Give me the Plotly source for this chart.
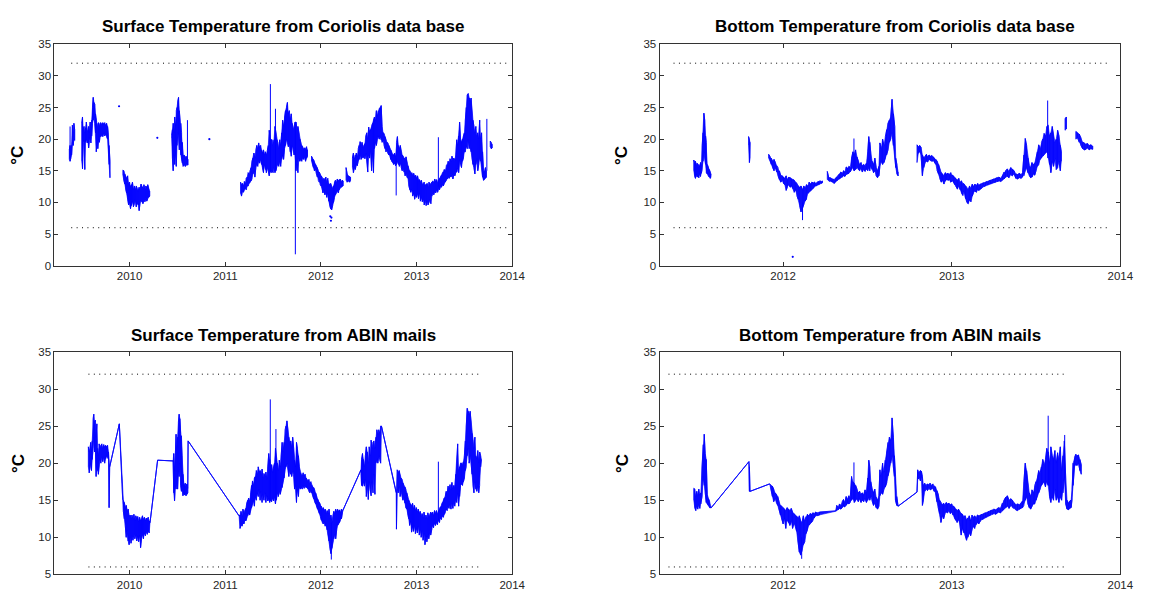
import plotly.graph_objects as go

# ---------------- data (decimal year, low, high) ----------------
# Surface temperature, Coriolis data base (top-left); None = gap in record
surf_cor_rows = [
    (2009.370, 16.8, 18.3), (2009.378, 16.5, 19.0), (2009.386, 17.0, 18.5), (2009.394, 17.5, 19.0),
    (2009.402, 19.5, 22.2), (2009.410, 19.0, 21.0), (2009.418, 20.0, 22.5), (2009.426, 19.8, 21.5),
    None,
    (2009.500, 16.5, 22.5), (2009.508, 15.3, 23.5), (2009.516, 19.5, 21.5), (2009.524, 19.8, 22.0),
    (2009.532, 15.2, 21.0), (2009.540, 19.5, 21.8), (2009.548, 20.0, 22.7), (2009.556, 19.4, 21.5),
    (2009.564, 19.6, 21.2), (2009.572, 18.6, 22.0), (2009.580, 19.8, 21.0), (2009.588, 20.2, 22.7),
    (2009.596, 19.4, 21.5), (2009.604, 20.5, 23.0), (2009.612, 22.5, 25.0), (2009.620, 23.0, 26.6),
    (2009.628, 23.5, 25.8), (2009.636, 22.5, 25.5), (2009.644, 21.0, 24.0), (2009.652, 18.0, 23.0),
    (2009.660, 19.5, 22.5), (2009.668, 18.5, 21.5), (2009.676, 20.0, 22.6), (2009.684, 19.5, 22.0),
    (2009.692, 20.5, 22.5), (2009.700, 20.4, 22.6), (2009.710, 20.6, 22.3), (2009.720, 20.4, 22.6),
    (2009.730, 21.0, 22.4), (2009.740, 20.5, 22.6), (2009.750, 20.8, 22.2), (2009.760, 20.4, 22.5),
    (2009.770, 20.0, 22.0), (2009.778, 19.0, 21.0), (2009.786, 16.0, 19.0), (2009.795, 13.9, 16.5),
    None,
    (2009.930, 14.3, 15.1), (2009.940, 13.5, 15.0), (2009.950, 12.9, 14.5), (2009.960, 12.0, 14.0),
    (2009.970, 11.5, 13.8), (2009.980, 10.5, 14.2), (2009.990, 9.6, 13.0), (2010.000, 10.0, 13.2),
    (2010.010, 9.0, 12.5), (2010.020, 9.5, 12.8), (2010.030, 10.2, 13.2), (2010.040, 9.3, 12.0),
    (2010.050, 9.8, 12.6), (2010.060, 10.4, 12.0), (2010.070, 9.3, 12.6), (2010.080, 10.0, 12.2),
    (2010.090, 9.6, 11.8), (2010.100, 8.7, 12.4), (2010.110, 9.9, 12.0), (2010.120, 10.3, 12.9),
    (2010.130, 10.1, 12.5), (2010.140, 9.8, 12.2), (2010.150, 10.5, 12.8), (2010.160, 10.1, 12.0),
    (2010.170, 10.6, 12.6), (2010.180, 10.2, 12.3), (2010.190, 10.6, 12.8), (2010.200, 10.8, 12.0),
    (2010.210, 11.0, 11.8),
    None,
    (2010.440, 20.1, 20.6), (2010.448, 17.0, 21.5), (2010.456, 15.0, 22.5), (2010.464, 17.5, 21.0),
    (2010.472, 16.0, 23.5), (2010.480, 18.0, 22.0), (2010.488, 15.7, 24.5), (2010.496, 19.0, 25.0),
    (2010.504, 21.0, 26.0), (2010.512, 20.5, 26.6), (2010.520, 18.3, 24.5), (2010.528, 19.5, 23.0),
    (2010.536, 17.5, 22.5), (2010.544, 16.8, 21.0), (2010.552, 16.2, 19.5), (2010.560, 15.7, 17.3),
    (2010.570, 16.0, 17.5), (2010.580, 15.7, 17.0), (2010.590, 15.8, 17.3), (2010.600, 16.0, 17.0),
    (2010.610, 15.9, 16.8),
    None,
    (2011.160, 11.4, 13.2), (2011.170, 11.0, 12.8), (2011.180, 11.8, 13.0), (2011.190, 11.6, 12.6),
    (2011.200, 12.0, 13.3), (2011.210, 12.2, 13.0), (2011.220, 12.0, 13.8), (2011.230, 12.6, 14.0),
    (2011.240, 12.6, 14.7), (2011.250, 13.0, 14.5), (2011.260, 13.2, 15.0), (2011.270, 13.4, 15.5),
    (2011.280, 13.7, 16.5), (2011.290, 14.5, 17.0), (2011.300, 15.0, 17.8), (2011.310, 14.0, 17.0),
    (2011.320, 15.5, 18.3), (2011.330, 16.0, 19.0), (2011.340, 15.7, 18.5), (2011.350, 16.5, 19.4),
    (2011.360, 16.2, 18.8), (2011.370, 16.8, 19.0), (2011.380, 16.0, 18.3), (2011.390, 15.5, 17.8),
    (2011.400, 14.7, 18.3), (2011.410, 16.0, 17.5), (2011.420, 15.2, 18.0), (2011.430, 14.7, 17.5),
    (2011.440, 15.5, 18.2), (2011.450, 15.0, 19.0), (2011.460, 14.2, 21.4), (2011.470, 15.0, 20.0),
    (2011.480, 14.7, 19.9), (2011.490, 15.0, 19.9), (2011.500, 14.7, 19.0), (2011.510, 15.5, 19.9),
    (2011.520, 14.7, 22.0), (2011.530, 15.0, 21.0), (2011.540, 15.7, 19.9), (2011.550, 16.0, 19.5),
    (2011.560, 15.7, 18.5), (2011.570, 16.5, 19.9), (2011.580, 15.7, 19.0), (2011.590, 16.8, 21.0),
    (2011.600, 17.5, 23.0), (2011.610, 16.8, 22.0), (2011.620, 18.5, 23.5), (2011.630, 19.0, 24.5),
    (2011.640, 20.0, 25.0), (2011.650, 19.5, 25.8), (2011.660, 18.8, 24.0), (2011.670, 19.5, 24.5),
    (2011.680, 18.0, 23.0), (2011.690, 17.3, 24.0), (2011.700, 19.0, 22.5), (2011.710, 18.5, 21.5),
    (2011.720, 17.5, 22.0), (2011.730, 18.0, 22.7), (2011.740, 15.0, 22.7), (2011.750, 16.0, 21.5),
    (2011.760, 14.7, 22.0), (2011.770, 17.0, 21.0), (2011.780, 16.5, 20.0), (2011.790, 16.8, 19.5),
    (2011.800, 16.5, 19.0), (2011.810, 17.0, 18.8), (2011.820, 16.8, 18.5), (2011.830, 17.2, 18.6),
    (2011.840, 16.5, 18.4), (2011.850, 17.0, 18.8), (2011.860, 17.3, 18.3),
    None,
    (2011.902, 16.5, 17.3), (2011.912, 16.0, 17.0), (2011.922, 15.5, 16.8), (2011.932, 15.0, 16.5),
    (2011.942, 15.2, 16.0), (2011.952, 14.6, 15.7), (2011.962, 14.0, 15.5), (2011.972, 13.5, 15.0),
    (2011.982, 13.2, 14.8), (2011.992, 12.8, 14.5), (2012.002, 12.6, 14.2), (2012.012, 12.2, 14.0),
    (2012.022, 11.5, 13.6), (2012.032, 12.0, 13.8), (2012.042, 11.2, 13.5), (2012.052, 11.6, 14.0),
    (2012.062, 10.8, 13.2), (2012.072, 11.5, 13.8), (2012.082, 10.2, 13.0), (2012.092, 9.5, 12.8),
    (2012.102, 9.0, 13.0), (2012.112, 8.8, 12.5), (2012.122, 9.5, 12.2), (2012.132, 10.0, 12.6),
    (2012.142, 10.8, 13.2), (2012.152, 11.2, 13.5), (2012.162, 11.5, 13.0), (2012.172, 11.9, 13.7),
    (2012.182, 11.5, 13.4), (2012.192, 12.0, 13.6), (2012.202, 12.3, 13.7), (2012.212, 12.4, 13.2),
    (2012.222, 12.5, 13.5), (2012.232, 12.6, 13.4),
    None,
    (2012.263, 13.5, 15.5), (2012.275, 13.2, 14.5), (2012.287, 13.4, 14.2), (2012.300, 13.2, 14.0),
    (2012.310, 13.5, 14.0),
    None,
    (2012.330, 15.5, 17.0), (2012.340, 14.7, 17.8), (2012.350, 15.5, 16.8), (2012.360, 15.2, 17.5),
    (2012.370, 16.0, 17.8), (2012.380, 15.8, 17.2), (2012.390, 16.5, 18.5), (2012.400, 16.8, 19.0),
    (2012.410, 17.5, 19.6), (2012.420, 16.8, 19.0), (2012.430, 17.3, 19.5), (2012.440, 17.0, 18.6),
    (2012.450, 17.5, 19.0), (2012.460, 16.9, 19.3), (2012.470, 17.8, 20.5), (2012.480, 17.0, 21.0),
    (2012.490, 14.8, 20.0), (2012.500, 17.5, 21.9), (2012.510, 17.0, 21.2), (2012.520, 18.2, 21.5),
    (2012.530, 15.0, 22.0), (2012.540, 17.8, 22.5), (2012.550, 14.7, 23.0), (2012.560, 18.5, 23.5),
    (2012.570, 19.5, 22.8), (2012.580, 19.0, 24.5), (2012.590, 20.0, 23.6), (2012.600, 20.5, 24.5),
    (2012.610, 20.0, 24.8), (2012.620, 20.5, 25.0), (2012.630, 19.9, 25.3), (2012.640, 19.5, 22.0),
    (2012.650, 19.8, 21.0), (2012.660, 19.0, 20.9), (2012.670, 18.5, 20.4), (2012.680, 18.0, 19.9),
    (2012.690, 18.2, 19.5), (2012.700, 17.8, 19.4), (2012.710, 17.5, 19.0), (2012.720, 17.5, 18.5),
    (2012.730, 16.8, 18.3), (2012.740, 16.5, 18.0), (2012.750, 16.3, 17.6), (2012.760, 16.0, 17.5),
    (2012.770, 16.2, 17.8), (2012.780, 15.8, 17.2), (2012.790, 16.0, 19.5), (2012.800, 16.5, 20.4),
    (2012.810, 16.0, 19.0), (2012.820, 15.7, 18.5), (2012.830, 16.2, 19.0), (2012.840, 15.5, 17.8),
    (2012.850, 15.0, 17.5), (2012.860, 15.5, 17.3), (2012.870, 14.8, 17.0), (2012.880, 14.2, 16.8),
    (2012.890, 14.5, 17.2), (2012.900, 14.0, 16.2), (2012.910, 13.8, 15.8), (2012.920, 12.6, 15.2),
    (2012.930, 12.0, 15.0), (2012.940, 11.6, 14.5), (2012.950, 12.2, 14.7), (2012.960, 11.0, 14.2),
    (2012.970, 11.5, 14.6), (2012.980, 10.5, 14.0), (2012.990, 11.2, 14.3), (2013.000, 10.8, 13.8),
    (2013.010, 11.4, 14.2), (2013.020, 10.6, 13.5), (2013.030, 11.5, 13.6), (2013.040, 10.2, 13.2),
    (2013.050, 10.8, 13.5), (2013.060, 10.1, 12.8), (2013.070, 10.5, 13.0), (2013.080, 9.6, 13.2),
    (2013.090, 10.3, 12.6), (2013.100, 9.5, 12.9), (2013.110, 10.2, 13.0), (2013.120, 9.6, 12.4),
    (2013.130, 10.0, 13.2), (2013.140, 10.4, 12.8), (2013.150, 9.8, 13.0), (2013.160, 11.0, 13.2),
    (2013.170, 11.6, 13.4), (2013.180, 11.2, 13.0), (2013.190, 11.8, 13.7), (2013.200, 11.5, 13.2),
    (2013.210, 12.0, 13.6), (2013.220, 11.6, 13.0), (2013.230, 12.2, 13.5), (2013.240, 12.0, 13.8),
    (2013.250, 12.5, 14.0), (2013.260, 12.4, 14.3), (2013.270, 12.8, 14.6), (2013.280, 12.6, 14.8),
    (2013.290, 13.0, 15.2), (2013.300, 13.2, 15.0), (2013.310, 13.5, 15.8), (2013.320, 13.7, 16.0),
    (2013.330, 14.0, 16.5), (2013.340, 13.8, 16.2), (2013.350, 14.2, 16.9), (2013.360, 14.0, 16.5),
    (2013.370, 14.4, 17.3), (2013.380, 13.7, 16.8), (2013.390, 14.5, 17.0), (2013.400, 14.2, 16.6),
    (2013.410, 14.7, 17.5), (2013.420, 14.8, 19.9), (2013.430, 15.5, 19.0), (2013.440, 14.7, 20.5),
    (2013.450, 16.8, 22.7), (2013.460, 16.0, 20.0), (2013.470, 15.5, 19.5), (2013.480, 16.5, 20.0),
    (2013.490, 17.0, 20.5), (2013.500, 18.0, 21.0), (2013.510, 18.0, 23.0), (2013.520, 19.0, 25.0),
    (2013.530, 18.5, 27.0), (2013.540, 20.0, 27.2), (2013.550, 18.5, 26.5), (2013.560, 19.0, 26.0),
    (2013.570, 18.0, 26.5), (2013.580, 17.0, 24.0), (2013.590, 16.0, 23.0), (2013.600, 15.5, 22.0),
    (2013.610, 14.5, 21.0), (2013.620, 16.0, 22.0), (2013.630, 17.0, 20.5), (2013.640, 15.0, 21.0),
    (2013.650, 16.0, 20.0), (2013.660, 17.0, 23.0), (2013.670, 16.5, 20.0), (2013.680, 16.0, 21.0),
    (2013.690, 14.0, 18.0), (2013.700, 13.5, 15.0), (2013.710, 13.6, 14.8), (2013.720, 13.8, 15.5),
    (2013.730, 14.0, 15.0),
    None,
    (2013.770, 18.8, 19.7), (2013.780, 18.5, 19.5), (2013.790, 18.6, 19.2),
]
surf_cor_spikes = [(2009.378, 17.0, 22.0), (2010.605, 16.0, 23.0), (2011.472, 15.0, 28.7),
                   (2011.525, 15.0, 24.8), (2011.733, 1.8, 22.0), (2012.787, 11.1, 17.0),
                   (2013.228, 12.5, 20.3), (2013.735, 15.0, 23.2)]
surf_cor_dots = [(2009.890, 25.2), (2010.290, 20.2), (2010.834, 20.0), (2012.098, 7.8),
                 (2012.105, 7.1), (2012.110, 7.6)]

# Surface temperature, ABIN mails (bottom-left); continuous line record
surf_abin_rows = [
    (2009.569, 19.5, 22.2), (2009.578, 18.7, 21.5), (2009.586, 19.5, 22.0), (2009.594, 20.0, 22.8),
    (2009.602, 19.0, 21.5), (2009.610, 20.5, 23.0), (2009.618, 22.0, 26.0), (2009.626, 23.5, 26.6),
    (2009.634, 21.5, 25.5), (2009.642, 22.5, 25.8), (2009.650, 18.2, 23.5), (2009.658, 19.5, 25.3),
    (2009.666, 19.0, 22.0), (2009.674, 18.5, 21.0), (2009.682, 19.8, 22.6), (2009.690, 20.5, 22.0),
    (2009.700, 20.0, 22.4), (2009.710, 20.8, 22.6), (2009.720, 20.2, 22.0), (2009.730, 20.8, 22.5),
    (2009.740, 20.0, 22.2), (2009.750, 20.6, 22.4), (2009.760, 21.0, 22.2), (2009.770, 20.9, 22.4),
    (2009.780, 20.5, 21.5), (2009.786, 14.0, 20.5), (2009.792, 19.5, 19.5), (2009.893, 25.3, 25.3),
    (2009.928, 15.1, 15.1), (2009.935, 13.5, 15.0), (2009.945, 12.5, 14.7), (2009.955, 11.6, 14.0),
    (2009.965, 10.0, 14.3), (2009.975, 11.0, 13.5), (2009.985, 9.5, 13.8), (2009.995, 9.0, 12.8),
    (2010.005, 10.0, 13.0), (2010.015, 9.2, 12.5), (2010.025, 10.2, 13.0), (2010.035, 9.6, 12.4),
    (2010.045, 10.5, 13.1), (2010.055, 9.8, 12.2), (2010.065, 10.4, 12.9), (2010.075, 9.5, 12.5),
    (2010.085, 10.2, 12.8), (2010.095, 9.4, 12.0), (2010.105, 10.3, 12.7), (2010.115, 8.6, 12.2),
    (2010.125, 9.8, 12.5), (2010.135, 10.4, 12.9), (2010.145, 9.8, 12.4), (2010.155, 10.6, 12.7),
    (2010.165, 10.2, 12.2), (2010.175, 10.8, 12.6), (2010.185, 10.4, 12.4), (2010.195, 10.9, 12.7),
    (2010.205, 10.6, 12.2), (2010.214, 12.0, 12.0), (2010.293, 20.4, 20.4), (2010.455, 20.3, 20.3),
    (2010.462, 16.0, 21.3), (2010.470, 14.9, 19.0), (2010.478, 17.0, 21.0), (2010.486, 16.5, 23.9),
    (2010.494, 17.5, 22.0), (2010.502, 16.5, 23.5), (2010.510, 19.0, 25.5), (2010.518, 18.2, 26.6),
    (2010.526, 20.0, 26.0), (2010.534, 17.0, 24.0), (2010.542, 16.2, 23.7), (2010.550, 17.0, 21.0),
    (2010.558, 15.6, 18.5), (2010.566, 16.0, 17.3), (2010.574, 15.7, 17.0), (2010.582, 16.0, 17.3),
    (2010.590, 15.6, 16.8), (2010.600, 15.8, 17.2), (2010.608, 16.0, 16.6), (2010.612, 23.0, 23.0),
    (2011.144, 12.9, 12.9), (2011.155, 11.2, 13.0), (2011.165, 11.8, 13.5), (2011.175, 11.5, 12.8),
    (2011.185, 12.0, 13.8), (2011.195, 11.8, 13.2), (2011.205, 12.4, 13.6), (2011.215, 12.2, 13.9),
    (2011.225, 12.6, 14.6), (2011.235, 12.9, 15.0), (2011.245, 13.3, 15.3), (2011.255, 13.0, 14.8),
    (2011.265, 13.8, 16.0), (2011.275, 14.0, 17.0), (2011.285, 14.5, 17.6), (2011.295, 15.0, 17.0),
    (2011.305, 14.2, 18.0), (2011.315, 15.5, 18.2), (2011.325, 15.0, 19.0), (2011.335, 16.0, 18.5),
    (2011.345, 15.5, 19.5), (2011.355, 16.5, 18.8), (2011.365, 15.0, 19.0), (2011.375, 16.2, 18.5),
    (2011.385, 14.7, 19.2), (2011.395, 15.8, 18.0), (2011.405, 15.0, 18.6), (2011.415, 16.0, 18.2),
    (2011.425, 14.7, 18.8), (2011.435, 15.6, 17.8), (2011.445, 14.9, 19.5), (2011.455, 15.2, 21.3),
    (2011.465, 14.7, 20.5), (2011.475, 15.0, 19.5), (2011.485, 14.8, 19.8), (2011.495, 15.3, 18.7),
    (2011.505, 14.9, 19.5), (2011.515, 15.5, 20.0), (2011.525, 14.5, 22.0), (2011.535, 15.0, 20.4),
    (2011.545, 16.0, 20.0), (2011.555, 15.5, 19.0), (2011.565, 16.2, 20.4), (2011.575, 15.8, 19.5),
    (2011.585, 16.5, 21.0), (2011.595, 16.7, 22.8), (2011.605, 17.5, 21.5), (2011.615, 18.0, 22.8),
    (2011.625, 19.1, 24.5), (2011.635, 19.5, 25.0), (2011.645, 20.0, 25.7), (2011.655, 19.5, 24.5),
    (2011.665, 18.2, 23.5), (2011.675, 19.0, 22.5), (2011.685, 18.5, 23.0), (2011.695, 18.2, 22.0),
    (2011.705, 19.0, 23.5), (2011.715, 18.5, 22.0), (2011.725, 16.5, 20.4), (2011.735, 17.0, 19.5),
    (2011.745, 14.7, 22.8), (2011.755, 16.5, 22.0), (2011.765, 15.5, 21.0), (2011.775, 16.8, 19.5),
    (2011.785, 16.5, 18.7), (2011.795, 16.8, 18.5), (2011.805, 16.5, 18.2), (2011.815, 17.0, 18.7),
    (2011.825, 16.6, 18.3), (2011.835, 17.0, 18.5), (2011.845, 16.7, 18.0), (2011.855, 16.8, 17.8),
    (2011.865, 16.5, 17.6), (2011.875, 16.2, 17.8), (2011.885, 16.0, 17.3), (2011.895, 16.3, 17.5),
    (2011.905, 16.0, 17.0), (2011.915, 15.6, 16.8), (2011.925, 15.2, 16.7), (2011.935, 14.8, 16.4),
    (2011.945, 14.5, 16.0), (2011.955, 14.2, 15.6), (2011.965, 13.8, 15.2), (2011.975, 13.5, 14.9),
    (2011.985, 13.2, 14.7), (2011.995, 12.8, 14.4), (2012.005, 12.3, 14.2), (2012.015, 12.0, 13.8),
    (2012.025, 11.8, 14.0), (2012.035, 12.2, 13.6), (2012.045, 11.5, 13.8), (2012.055, 11.8, 13.2),
    (2012.065, 11.0, 13.6), (2012.075, 10.5, 13.2), (2012.085, 9.5, 13.8), (2012.095, 8.5, 12.5),
    (2012.105, 7.8, 13.0), (2012.115, 8.5, 12.0), (2012.125, 9.4, 12.8), (2012.135, 9.8, 13.5),
    (2012.145, 10.5, 13.2), (2012.155, 9.8, 13.8), (2012.165, 11.0, 13.4), (2012.175, 11.6, 13.8),
    (2012.185, 11.8, 13.5), (2012.195, 12.0, 13.7), (2012.205, 12.4, 13.3), (2012.215, 12.5, 13.8),
    (2012.229, 13.6, 13.6), (2012.419, 19.1, 19.1), (2012.425, 17.0, 20.5), (2012.435, 16.9, 21.3),
    (2012.445, 17.5, 20.5), (2012.455, 16.9, 19.5), (2012.465, 17.8, 21.0), (2012.475, 15.5, 22.2),
    (2012.485, 17.0, 21.5), (2012.495, 15.1, 20.0), (2012.505, 17.5, 22.2), (2012.515, 16.5, 21.0),
    (2012.525, 15.6, 23.1), (2012.535, 17.5, 22.0), (2012.545, 16.0, 22.8), (2012.555, 18.5, 23.0),
    (2012.565, 15.8, 22.0), (2012.575, 20.0, 23.5), (2012.585, 20.5, 24.5), (2012.595, 20.0, 23.8),
    (2012.605, 21.0, 24.5), (2012.615, 20.5, 24.0), (2012.625, 20.0, 25.0), (2012.633, 25.0, 25.0),
    (2012.787, 16.0, 16.0), (2012.790, 11.1, 16.0), (2012.798, 16.5, 19.1), (2012.808, 16.0, 18.7),
    (2012.818, 16.8, 19.0), (2012.828, 15.5, 18.2), (2012.838, 16.2, 18.0), (2012.848, 15.6, 17.8),
    (2012.858, 15.0, 17.3), (2012.868, 15.4, 17.0), (2012.878, 14.6, 16.8), (2012.888, 14.0, 16.5),
    (2012.898, 13.8, 16.0), (2012.908, 13.2, 15.5), (2012.918, 12.5, 15.0), (2012.928, 11.6, 14.7),
    (2012.938, 12.2, 14.5), (2012.948, 10.7, 14.2), (2012.958, 11.5, 14.6), (2012.968, 10.8, 13.8),
    (2012.978, 11.6, 14.3), (2012.988, 10.5, 13.6), (2012.998, 11.2, 14.0), (2013.008, 10.6, 13.4),
    (2013.018, 11.5, 13.8), (2013.028, 10.3, 13.2), (2013.038, 11.0, 13.5), (2013.048, 10.0, 12.8),
    (2013.058, 10.8, 13.2), (2013.068, 9.6, 12.6), (2013.078, 10.5, 13.4), (2013.088, 9.0, 12.5),
    (2013.098, 10.2, 13.0), (2013.108, 9.4, 12.4), (2013.118, 10.5, 13.3), (2013.128, 9.8, 12.7),
    (2013.138, 10.8, 13.0), (2013.148, 10.3, 13.4), (2013.158, 11.0, 13.2), (2013.168, 11.6, 13.4),
    (2013.178, 11.3, 12.9), (2013.188, 11.9, 13.6), (2013.198, 11.6, 13.2), (2013.208, 12.0, 13.6),
    (2013.218, 11.7, 13.1), (2013.230, 12.3, 13.6), (2013.240, 12.0, 13.9), (2013.250, 12.6, 14.1),
    (2013.260, 12.4, 14.3), (2013.270, 12.9, 14.7), (2013.280, 12.7, 14.9), (2013.290, 13.1, 15.3),
    (2013.300, 13.3, 15.5), (2013.310, 13.8, 16.2), (2013.320, 13.6, 15.8), (2013.330, 14.2, 16.9),
    (2013.340, 13.9, 16.2), (2013.350, 14.4, 17.1), (2013.360, 13.8, 16.4), (2013.370, 14.6, 17.4),
    (2013.380, 13.9, 16.6), (2013.390, 14.6, 17.0), (2013.400, 14.2, 16.7), (2013.410, 15.0, 18.5),
    (2013.420, 14.7, 19.9), (2013.430, 16.0, 22.6), (2013.440, 14.2, 19.0), (2013.450, 15.5, 19.5),
    (2013.460, 17.0, 20.0), (2013.470, 17.2, 20.0), (2013.480, 17.0, 19.8), (2013.490, 17.5, 20.2),
    (2013.500, 18.0, 21.0), (2013.510, 19.0, 23.0), (2013.520, 19.5, 25.0), (2013.530, 21.0, 27.4),
    (2013.540, 22.0, 27.0), (2013.550, 20.0, 26.5), (2013.560, 21.0, 27.0), (2013.570, 20.0, 25.5),
    (2013.580, 18.5, 24.0), (2013.590, 17.0, 23.0), (2013.600, 16.0, 22.0), (2013.610, 17.5, 23.5),
    (2013.620, 16.5, 21.0), (2013.630, 16.2, 20.5), (2013.640, 17.0, 21.7), (2013.650, 16.0, 20.0),
    (2013.660, 17.0, 21.5), (2013.670, 19.5, 21.0), (2013.678, 20.5, 20.5),
]
surf_abin_spikes = [(2011.471, 15.0, 28.6), (2011.530, 15.0, 24.6), (2012.109, 7.0, 12.0),
                    (2013.228, 12.3, 20.2)]

# Bottom temperature, Coriolis data base (top-right)
bot_cor_rows = [
    (2011.470, 15.0, 16.7), (2011.475, 14.2, 16.3), (2011.480, 13.8, 16.5), (2011.485, 14.5, 15.8),
    (2011.490, 14.0, 16.2), (2011.495, 14.3, 15.5), (2011.500, 13.9, 16.0), (2011.505, 14.5, 15.6),
    (2011.510, 14.1, 16.3), (2011.515, 14.6, 15.8), (2011.520, 15.2, 19.0), (2011.525, 16.5, 21.0),
    (2011.530, 18.0, 24.1), (2011.535, 17.0, 23.0), (2011.540, 16.0, 20.5), (2011.545, 14.7, 19.5),
    (2011.550, 14.5, 16.0), (2011.556, 14.2, 15.6), (2011.562, 14.0, 15.2), (2011.568, 13.8, 14.8),
    (2011.572, 14.0, 14.5),
    None,
    (2011.795, 19.0, 20.4), (2011.800, 16.3, 20.0), (2011.804, 17.0, 19.5),
    None,
    (2011.914, 17.0, 17.6), (2011.922, 16.8, 17.3), (2011.930, 16.0, 17.0), (2011.938, 15.5, 16.5),
    (2011.946, 15.0, 16.8), (2011.954, 15.5, 16.3), (2011.962, 14.8, 15.8), (2011.970, 14.2, 15.5),
    (2011.978, 13.6, 15.0), (2011.986, 13.2, 14.3), (2011.994, 13.5, 14.2), (2012.002, 13.0, 14.0),
    (2012.010, 12.8, 13.8), (2012.018, 11.9, 14.2), (2012.026, 12.5, 13.6), (2012.034, 12.8, 14.0),
    (2012.042, 12.4, 13.9), (2012.050, 12.6, 13.7), (2012.058, 12.2, 13.6), (2012.066, 11.6, 13.5),
    (2012.074, 12.0, 13.2), (2012.082, 11.0, 13.0), (2012.090, 10.5, 12.6), (2012.098, 9.5, 12.4),
    (2012.106, 8.5, 12.6), (2012.114, 9.0, 12.0), (2012.122, 9.6, 12.6), (2012.130, 10.2, 12.3),
    (2012.138, 10.5, 12.8), (2012.146, 11.4, 12.6), (2012.154, 11.6, 13.2), (2012.162, 11.8, 12.9),
    (2012.170, 12.0, 13.2), (2012.178, 12.2, 13.1), (2012.186, 12.5, 13.2), (2012.194, 12.6, 13.0),
    (2012.202, 12.7, 13.2), (2012.210, 12.8, 13.3), (2012.218, 12.9, 13.4), (2012.226, 13.0, 13.3),
    (2012.233, 13.1, 13.4),
    None,
    (2012.262, 13.6, 14.9), (2012.270, 13.4, 14.0), (2012.278, 13.3, 13.9), (2012.286, 13.3, 13.8),
    (2012.294, 13.2, 13.7), (2012.302, 13.0, 13.6), (2012.310, 13.2, 13.8), (2012.318, 13.4, 14.0),
    (2012.326, 13.6, 14.3), (2012.334, 13.7, 14.5), (2012.342, 13.9, 14.8), (2012.350, 14.0, 14.6),
    (2012.358, 14.2, 15.0), (2012.366, 14.1, 14.8), (2012.374, 14.4, 15.6), (2012.382, 14.5, 15.4),
    (2012.390, 14.6, 15.7), (2012.398, 14.8, 15.5), (2012.406, 15.2, 17.0), (2012.414, 15.5, 18.0),
    (2012.422, 15.0, 17.5), (2012.430, 15.2, 18.3), (2012.438, 15.5, 17.2), (2012.446, 15.2, 16.5),
    (2012.454, 15.0, 16.0), (2012.462, 15.4, 16.3), (2012.470, 14.8, 15.8), (2012.478, 15.2, 16.0),
    (2012.486, 14.9, 15.8), (2012.494, 15.3, 16.2), (2012.502, 15.0, 18.0), (2012.508, 15.5, 20.4),
    (2012.514, 15.0, 19.5), (2012.520, 15.8, 17.8), (2012.528, 15.2, 16.5), (2012.536, 14.7, 16.0),
    (2012.544, 15.0, 17.0), (2012.552, 14.2, 15.5), (2012.560, 13.9, 15.0), (2012.568, 14.2, 15.7),
    (2012.574, 15.7, 19.4), (2012.582, 16.5, 18.5), (2012.590, 16.0, 20.0), (2012.598, 16.3, 19.0),
    (2012.606, 17.0, 20.4), (2012.614, 17.5, 21.5), (2012.622, 18.3, 22.5), (2012.630, 19.5, 23.0),
    (2012.638, 20.0, 23.5), (2012.646, 21.0, 26.3), (2012.654, 19.0, 24.0), (2012.662, 17.3, 22.0),
    (2012.668, 15.5, 17.0), (2012.675, 14.5, 16.0), (2012.682, 14.2, 14.8),
    None,
    (2012.794, 16.3, 19.1), (2012.802, 17.8, 18.8), (2012.810, 18.0, 19.0), (2012.818, 17.5, 18.7),
    (2012.826, 14.2, 17.5), (2012.834, 15.5, 17.0), (2012.842, 16.3, 17.3), (2012.850, 16.5, 17.6),
    (2012.858, 16.4, 17.2), (2012.866, 16.8, 17.5), (2012.874, 16.6, 17.3), (2012.882, 16.5, 17.4),
    (2012.890, 16.6, 17.2), (2012.898, 16.3, 17.0), (2012.906, 16.0, 16.8), (2012.914, 15.0, 16.5),
    (2012.922, 14.5, 16.0), (2012.930, 13.7, 15.2), (2012.938, 13.2, 14.7), (2012.946, 13.5, 14.5),
    (2012.954, 12.9, 14.2), (2012.962, 13.4, 14.7), (2012.970, 13.6, 14.5), (2012.978, 13.5, 14.6),
    (2012.986, 13.6, 14.4), (2012.994, 13.2, 14.7), (2013.002, 13.4, 14.3), (2013.010, 13.2, 14.2),
    (2013.018, 12.8, 13.9), (2013.026, 12.5, 13.7), (2013.034, 12.1, 13.5), (2013.042, 12.6, 13.8),
    (2013.050, 12.0, 13.2), (2013.058, 11.5, 13.4), (2013.066, 11.1, 13.0), (2013.074, 11.8, 12.9),
    (2013.082, 10.6, 12.6), (2013.090, 10.0, 12.4), (2013.098, 9.8, 12.0), (2013.106, 10.4, 12.6),
    (2013.114, 10.1, 12.2), (2013.122, 11.0, 12.9), (2013.130, 11.6, 12.5), (2013.138, 11.8, 12.9),
    (2013.146, 11.6, 12.6), (2013.154, 12.0, 13.0), (2013.162, 11.9, 12.7), (2013.170, 12.1, 12.9),
    (2013.180, 12.3, 13.0), (2013.190, 12.5, 13.1), (2013.200, 12.6, 13.2), (2013.210, 12.8, 13.3),
    (2013.220, 12.9, 13.4), (2013.230, 13.0, 13.5), (2013.240, 13.1, 13.6), (2013.250, 13.2, 13.7),
    (2013.260, 13.2, 13.8), (2013.270, 13.3, 13.9), (2013.280, 13.4, 14.0), (2013.290, 13.3, 13.8),
    (2013.300, 13.5, 14.2), (2013.310, 13.7, 14.8), (2013.320, 14.0, 15.0), (2013.330, 14.1, 15.3),
    (2013.340, 13.9, 14.9), (2013.350, 14.4, 15.5), (2013.360, 14.2, 15.2), (2013.370, 14.5, 15.0),
    (2013.380, 13.8, 14.5), (2013.390, 13.7, 14.4), (2013.400, 13.9, 14.6), (2013.410, 13.8, 14.4),
    (2013.420, 14.0, 14.7), (2013.428, 14.2, 17.5), (2013.436, 15.0, 20.1), (2013.444, 15.5, 19.0),
    (2013.452, 14.7, 17.0), (2013.460, 14.2, 15.8), (2013.468, 13.9, 15.5), (2013.476, 14.0, 16.3),
    (2013.484, 14.5, 16.0), (2013.492, 14.3, 16.2), (2013.500, 15.0, 17.0), (2013.508, 15.7, 18.0),
    (2013.516, 16.0, 19.1), (2013.524, 16.8, 18.5), (2013.532, 17.0, 19.5), (2013.540, 17.3, 20.0),
    (2013.548, 17.5, 20.9), (2013.556, 17.8, 20.5), (2013.564, 18.0, 22.0), (2013.572, 17.5, 22.2),
    (2013.580, 16.0, 20.5), (2013.588, 14.7, 21.0), (2013.596, 16.5, 22.0), (2013.604, 15.7, 20.4),
    (2013.612, 17.0, 19.5), (2013.620, 15.2, 20.0), (2013.628, 15.5, 21.4), (2013.636, 16.5, 20.5),
    (2013.644, 15.0, 19.0), (2013.650, 16.5, 18.0),
    None,
    (2013.672, 21.4, 23.2), (2013.680, 21.6, 23.5),
    None,
    (2013.736, 20.0, 21.2), (2013.746, 20.2, 21.0), (2013.756, 19.5, 20.8), (2013.766, 19.0, 20.2),
    (2013.776, 18.5, 19.5), (2013.786, 18.3, 19.4), (2013.796, 18.4, 19.2), (2013.806, 18.6, 19.3),
    (2013.816, 18.3, 19.0), (2013.826, 18.5, 19.1), (2013.836, 18.4, 18.9),
]
bot_cor_spikes = [(2012.420, 15.0, 20.1), (2013.569, 17.0, 26.1), (2012.115, 7.2, 10.0)]
bot_cor_dots = [(2012.057, 1.4)]

# Bottom temperature, ABIN mails (bottom-right)
bot_abin_rows = [
    (2011.470, 15.0, 16.6), (2011.476, 14.0, 16.5), (2011.482, 13.6, 15.5), (2011.488, 14.2, 16.2),
    (2011.494, 13.8, 15.6), (2011.500, 14.4, 16.5), (2011.506, 13.9, 15.8), (2011.512, 14.5, 16.0),
    (2011.519, 15.5, 19.5), (2011.526, 18.2, 22.5), (2011.532, 17.0, 23.9), (2011.538, 16.0, 21.3),
    (2011.544, 14.7, 20.5), (2011.550, 14.6, 15.8), (2011.557, 14.3, 15.2), (2011.564, 14.0, 14.9),
    (2011.574, 14.0, 14.0), (2011.797, 20.2, 20.2), (2011.800, 16.2, 19.5), (2011.804, 16.2, 16.2),
    (2011.920, 17.2, 17.2), (2011.928, 16.5, 17.0), (2011.936, 15.5, 16.9), (2011.944, 14.8, 16.5),
    (2011.952, 15.2, 16.0), (2011.960, 14.7, 15.8), (2011.968, 14.3, 15.5), (2011.976, 13.8, 14.8),
    (2011.984, 13.0, 14.3), (2011.992, 12.5, 14.2), (2012.000, 11.8, 14.0), (2012.008, 12.6, 13.8),
    (2012.016, 11.2, 13.6), (2012.024, 12.4, 14.0), (2012.032, 12.0, 13.8), (2012.040, 11.6, 13.6),
    (2012.048, 12.2, 13.9), (2012.056, 11.2, 13.4), (2012.064, 11.9, 13.2), (2012.072, 11.5, 13.0),
    (2012.080, 10.8, 12.9), (2012.088, 9.5, 12.6), (2012.096, 8.0, 12.9), (2012.104, 7.6, 12.2),
    (2012.112, 8.2, 12.0), (2012.120, 9.0, 12.9), (2012.128, 9.4, 12.2), (2012.136, 10.5, 12.8),
    (2012.144, 11.0, 13.1), (2012.152, 11.6, 12.9), (2012.160, 11.8, 13.2), (2012.168, 12.0, 13.1),
    (2012.176, 12.2, 13.3), (2012.184, 12.6, 13.2), (2012.192, 12.9, 13.4), (2012.200, 12.9, 13.3),
    (2012.216, 13.0, 13.4), (2012.310, 13.5, 13.5), (2012.318, 13.6, 14.3), (2012.326, 13.7, 14.1),
    (2012.334, 13.9, 14.5), (2012.342, 13.8, 14.3), (2012.350, 14.0, 14.8), (2012.358, 14.2, 15.1),
    (2012.366, 14.1, 14.7), (2012.374, 14.3, 15.5), (2012.382, 14.6, 15.1), (2012.390, 14.5, 15.6),
    (2012.398, 14.7, 15.3), (2012.406, 15.0, 18.2), (2012.414, 15.3, 17.5), (2012.422, 14.7, 17.3),
    (2012.430, 15.0, 17.0), (2012.438, 15.2, 16.5), (2012.446, 14.8, 16.0), (2012.454, 15.2, 16.2),
    (2012.462, 14.7, 15.8), (2012.470, 15.0, 16.0), (2012.478, 14.8, 15.7), (2012.486, 15.2, 16.4),
    (2012.494, 14.7, 15.9), (2012.502, 15.0, 18.0), (2012.508, 15.5, 20.4), (2012.514, 15.0, 19.5),
    (2012.520, 15.6, 17.5), (2012.528, 14.9, 16.5), (2012.536, 14.3, 16.0), (2012.544, 14.6, 16.5),
    (2012.552, 14.0, 15.4), (2012.560, 13.8, 15.0), (2012.568, 14.2, 15.6), (2012.574, 15.6, 19.1),
    (2012.582, 16.0, 18.2), (2012.590, 15.8, 20.0), (2012.598, 16.5, 18.8), (2012.606, 16.8, 20.4),
    (2012.614, 17.3, 21.5), (2012.622, 18.3, 22.8), (2012.630, 19.0, 23.5), (2012.638, 20.0, 23.0),
    (2012.646, 21.0, 26.1), (2012.654, 19.5, 23.5), (2012.660, 18.2, 21.0), (2012.666, 15.0, 18.2),
    (2012.674, 14.3, 15.5), (2012.682, 14.2, 14.2), (2012.794, 16.1, 16.1), (2012.798, 17.8, 19.1),
    (2012.806, 18.0, 18.7), (2012.814, 17.6, 19.0), (2012.820, 18.2, 18.9), (2012.826, 14.3, 18.2),
    (2012.832, 15.0, 17.0), (2012.840, 16.2, 17.3), (2012.848, 16.5, 17.0), (2012.856, 16.3, 17.2),
    (2012.864, 16.6, 17.1), (2012.872, 16.4, 17.3), (2012.880, 16.5, 17.0), (2012.888, 16.6, 17.2),
    (2012.896, 16.2, 16.9), (2012.904, 16.0, 16.8), (2012.912, 14.8, 16.3), (2012.920, 14.0, 15.8),
    (2012.928, 13.2, 15.0), (2012.936, 12.0, 14.7), (2012.944, 12.9, 14.4), (2012.952, 12.5, 14.6),
    (2012.960, 13.2, 14.4), (2012.968, 13.4, 14.7), (2012.976, 13.3, 14.5), (2012.984, 13.6, 14.6),
    (2012.992, 13.2, 14.4), (2013.000, 13.4, 14.5), (2013.008, 13.0, 14.2), (2013.016, 12.6, 14.1),
    (2013.024, 12.3, 13.8), (2013.032, 12.0, 13.6), (2013.040, 12.4, 13.8), (2013.048, 11.8, 13.4),
    (2013.056, 10.3, 13.2), (2013.064, 11.2, 13.1), (2013.072, 10.6, 12.8), (2013.080, 10.2, 12.9),
    (2013.088, 9.6, 12.4), (2013.096, 10.0, 12.6), (2013.104, 10.6, 12.9), (2013.112, 10.2, 12.2),
    (2013.120, 11.0, 13.0), (2013.128, 11.5, 12.7), (2013.136, 11.2, 12.9), (2013.144, 11.7, 12.6),
    (2013.152, 12.0, 13.0), (2013.160, 11.8, 12.9), (2013.170, 12.2, 13.0), (2013.180, 12.4, 13.1),
    (2013.190, 12.5, 13.2), (2013.200, 12.7, 13.3), (2013.210, 12.8, 13.3), (2013.220, 12.9, 13.5),
    (2013.230, 13.0, 13.6), (2013.240, 13.1, 13.6), (2013.250, 13.2, 13.8), (2013.260, 13.1, 13.7),
    (2013.270, 13.3, 13.9), (2013.280, 13.4, 14.0), (2013.290, 13.3, 13.9), (2013.300, 13.6, 14.6),
    (2013.310, 13.8, 15.0), (2013.320, 14.0, 15.4), (2013.330, 14.2, 15.6), (2013.340, 13.9, 15.0),
    (2013.350, 14.3, 15.2), (2013.360, 14.0, 15.0), (2013.370, 13.9, 14.6), (2013.380, 13.7, 14.4),
    (2013.390, 13.6, 14.5), (2013.400, 13.8, 14.4), (2013.410, 13.9, 14.6), (2013.420, 14.0, 14.9),
    (2013.428, 14.3, 17.5), (2013.436, 15.0, 20.0), (2013.444, 15.5, 19.0), (2013.452, 14.5, 17.0),
    (2013.460, 14.0, 16.0), (2013.468, 13.8, 15.5), (2013.476, 14.2, 16.4), (2013.484, 14.5, 16.0),
    (2013.492, 14.5, 17.0), (2013.500, 15.0, 17.5), (2013.508, 15.7, 18.0), (2013.516, 16.0, 19.0),
    (2013.524, 16.5, 18.6), (2013.532, 17.0, 19.5), (2013.540, 17.3, 20.5), (2013.548, 17.5, 19.8),
    (2013.556, 16.8, 20.5), (2013.564, 17.5, 22.0), (2013.572, 17.0, 21.5), (2013.580, 15.5, 20.0),
    (2013.588, 14.7, 22.2), (2013.596, 15.5, 21.0), (2013.604, 15.0, 20.5), (2013.612, 16.5, 21.7),
    (2013.620, 15.0, 20.0), (2013.628, 15.5, 21.4), (2013.636, 14.7, 20.5), (2013.644, 15.5, 22.2),
    (2013.652, 15.0, 19.0), (2013.660, 16.0, 21.0), (2013.668, 18.0, 23.0), (2013.676, 14.5, 18.0),
    (2013.684, 13.8, 15.0), (2013.692, 13.7, 14.6), (2013.700, 13.9, 14.9), (2013.708, 14.0, 15.0),
    (2013.714, 15.0, 16.5), (2013.720, 17.0, 20.0), (2013.728, 19.5, 20.8), (2013.736, 19.8, 21.2),
    (2013.744, 19.7, 21.0), (2013.752, 20.0, 21.1), (2013.760, 19.0, 20.5), (2013.768, 18.5, 19.8),
]
bot_abin_spikes = [(2012.420, 15.0, 20.1), (2013.572, 17.0, 26.4), (2012.110, 7.1, 10.0),
                   (2013.670, 18.0, 23.8)]

# reference (dotted) limit lines: value and time extents
limit_values = [6, 32]
limit_spans_surf_cor = [(2009.39, 2012.24), (2012.29, 2013.94)]
limit_spans_bot_cor = [(2011.35, 2012.235), (2012.28, 2013.92)]
limit_spans_surf_abin = [(2009.57, 2013.68)]
limit_spans_bot_abin = [(2011.32, 2013.67)]

titles = ["Surface Temperature from Coriolis data base", "Bottom Temperature from Coriolis data base",
          "Surface Temperature from ABIN mails", "Bottom Temperature from ABIN mails"]
left_ticks = [2010, 2011, 2012, 2013, 2014]
right_ticks = [2012, 2013, 2014]

# ---------------- figure ----------------
W, H = 1163, 599
BLUE = "#0000ff"


def segments(rows):
    segs, cur = [], []
    for r in rows:
        if r is None:
            if cur:
                segs.append(cur)
            cur = []
        else:
            cur.append(r)
    if cur:
        segs.append(cur)
    return segs


def band_xy(rows):
    xs, ys = [], []
    for seg in segments(rows):
        t = [r[0] for r in seg]
        lo = [r[1] for r in seg]
        hi = [r[2] for r in seg]
        xs += t + t[::-1] + [None]
        ys += hi + lo[::-1] + [None]
    return xs, ys


def zig_xy(rows):
    xs, ys = [], []
    for seg in segments(rows):
        for i, r in enumerate(seg):
            a, b = (r[1], r[2]) if i % 2 == 0 else (r[2], r[1])
            xs += [r[0], r[0]]
            ys += [a, b]
        xs.append(None)
        ys.append(None)
    return xs, ys


fig = go.Figure()

panels = [
    (surf_cor_rows, surf_cor_spikes, surf_cor_dots, limit_spans_surf_cor, "x", "y"),
    (bot_cor_rows, bot_cor_spikes, bot_cor_dots, limit_spans_bot_cor, "x2", "y2"),
    (surf_abin_rows, surf_abin_spikes, [], limit_spans_surf_abin, "x3", "y3"),
    (bot_abin_rows, bot_abin_spikes, [], limit_spans_bot_abin, "x4", "y4"),
]

for rows, spikes, dots, spans, xa, ya in panels:
    # dotted limit lines
    lx, ly = [], []
    for v in limit_values:
        for a, b in spans:
            lx += [a, b, None]
            ly += [v, v, None]
    fig.add_trace(go.Scatter(x=lx, y=ly, mode="lines", xaxis=xa, yaxis=ya,
                             line=dict(color="black", width=1, dash="1px,4.4px"), hoverinfo="skip"))
    bx, by = band_xy(rows)
    fig.add_trace(go.Scatter(x=bx, y=by, mode="lines", fill="toself", fillcolor="rgba(0,0,255,0.9)",
                             line=dict(color=BLUE, width=0.6), xaxis=xa, yaxis=ya, hoverinfo="skip"))
    zx, zy = zig_xy(rows)
    fig.add_trace(go.Scatter(x=zx, y=zy, mode="lines", line=dict(color=BLUE, width=0.8),
                             xaxis=xa, yaxis=ya, hoverinfo="skip"))
    sx, sy = [], []
    for t, lo, hi in spikes:
        sx += [t, t, None]
        sy += [lo, hi, None]
    fig.add_trace(go.Scatter(x=sx, y=sy, mode="lines", line=dict(color=BLUE, width=1),
                             xaxis=xa, yaxis=ya, hoverinfo="skip"))
    if dots:
        fig.add_trace(go.Scatter(x=[d[0] for d in dots], y=[d[1] for d in dots], mode="markers",
                                 marker=dict(color=BLUE, size=2.2), xaxis=xa, yaxis=ya, hoverinfo="skip"))

# axes placement (pixels -> paper)
LX = (55, 518)
RX = (667, 1133)
TY = (39, 265)
BY = (353, 580)


def xdom(p):
    return [p[0] / W, p[1] / W]


def ydom(p):
    return [1 - p[1] / H, 1 - p[0] / H]


tickfont = dict(family="Liberation Sans, Arial, sans-serif", size=11.5, color="#262626")
common = dict(showline=True, linecolor="#333333", linewidth=1, mirror="ticks", ticks="inside",
              ticklen=4, tickcolor="#333333", showgrid=False, zeroline=False, tickfont=tickfont,
              fixedrange=True)

fig.update_layout(
    width=W, height=H, margin=dict(l=0, r=0, t=0, b=0), autosize=False,
    paper_bgcolor="white", plot_bgcolor="white", showlegend=False,
    xaxis=dict(domain=xdom(LX), range=[2009.214, 2014], tickvals=left_ticks, anchor="y", **common),
    yaxis=dict(domain=ydom(TY), range=[0, 35], dtick=5, tick0=0, anchor="x", **common),
    xaxis2=dict(domain=xdom(RX), range=[2011.267, 2014], tickvals=right_ticks, anchor="y2", **common),
    yaxis2=dict(domain=ydom(TY), range=[0, 35], dtick=5, tick0=0, anchor="x2", **common),
    xaxis3=dict(domain=xdom(LX), range=[2009.214, 2014], tickvals=left_ticks, anchor="y3", **common),
    yaxis3=dict(domain=ydom(BY), range=[5, 35], dtick=5, tick0=0, anchor="x3", **common),
    xaxis4=dict(domain=xdom(RX), range=[2011.267, 2014], tickvals=right_ticks, anchor="y4", **common),
    yaxis4=dict(domain=ydom(BY), range=[5, 35], dtick=5, tick0=0, anchor="x4", **common),
)

title_font = dict(family="Liberation Sans, Arial, sans-serif", size=17, color="black")
title_pos = [((LX[0] + LX[1]) / 2, 21), ((RX[0] + RX[1]) / 2 + 5, 21),
             ((LX[0] + LX[1]) / 2, 336), ((RX[0] + RX[1]) / 2, 336)]
for txt, (px, py) in zip(titles, title_pos):
    fig.add_annotation(text="<b>" + txt + "</b>", x=px / W, y=1 - py / H, xref="paper", yref="paper",
                       xanchor="center", yanchor="middle", showarrow=False, font=title_font)

ylab_pos = [(18, (TY[0] + TY[1]) / 2), (629, (TY[0] + TY[1]) / 2),
            (18, (BY[0] + BY[1]) / 2), (629, (BY[0] + BY[1]) / 2)]
for px, py in ylab_pos:
    fig.add_annotation(text="<b>°C</b>", x=px / W, y=1 - py / H, xref="paper", yref="paper",
                       xanchor="center", yanchor="middle", showarrow=False, textangle=-90,
                       font=dict(family="Liberation Sans, Arial, sans-serif", size=17, color="black"))

fig.write_html("out.html")
